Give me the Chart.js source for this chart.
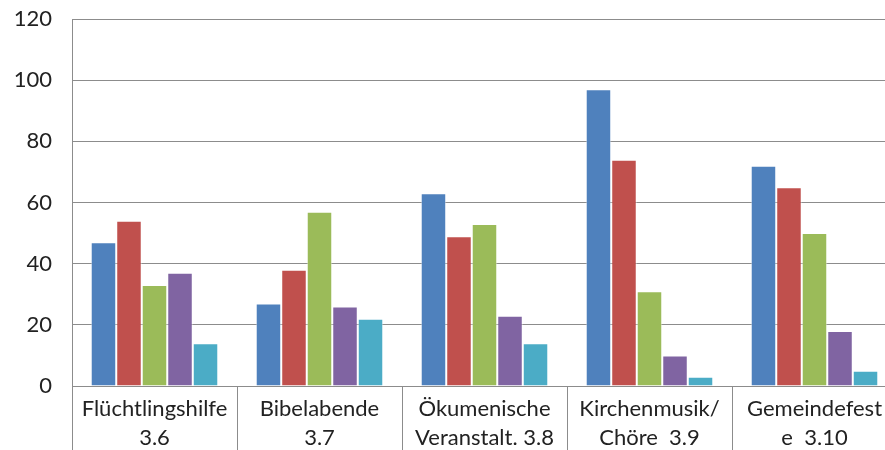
<!DOCTYPE html>
<html>
<head>
<meta charset="utf-8">
<script src="https://cdn.jsdelivr.net/npm/chart.js@4"></script>
<style>
    html, body { margin: 0; padding: 0; background: #fff; overflow: hidden; }
    #wrap { width: 900px; height: 450px; }
</style>
</head>
<body>
<div id="wrap"><canvas id="barChart" width="900" height="450"></canvas></div>
<script>
const categories = [
    ['Flüchtlingshilfe', '3.6'],
    ['Bibelabende', '3.7'],
    ['Ökumenische', 'Veranstalt. 3.8'],
    ['Kirchenmusik/', 'Chöre  3.9'],
    ['Gemeindefest', 'e  3.10']
];
const series1 = [47, 27, 63, 97, 72];
const series2 = [54, 38, 49, 74, 65];
const series3 = [33, 57, 53, 31, 50];
const series4 = [37, 26, 23, 10, 18];
const series5 = [14, 22, 14, 3, 5];
const yTicks = [0, 20, 40, 60, 80, 100, 120];

const colors = ['#4F81BD', '#C0504D', '#9BBB59', '#8064A2', '#4BACC6'];
const gridColor = '#8c8c8c';
const fontFamily = 'Lato, "Open Sans", sans-serif';

function makeSet(values, i) {
    return {
        data: values,
        backgroundColor: colors[i],
        borderColor: 'rgba(255,255,255,0.5)',
        borderWidth: 1,
        categoryPercentage: 0.773,
        barPercentage: 1
    };
}

new Chart(document.getElementById('barChart').getContext('2d'), {
    type: 'bar',
    data: {
        labels: categories,
        datasets: [series1, series2, series3, series4, series5].map(makeSet)
    },
    options: {
        responsive: false,
        animation: false,
        layout: { padding: { top: 19, right: 3, bottom: 0, left: 0 } },
        plugins: {
            legend: { display: false },
            tooltip: { enabled: false }
        },
        scales: {
            x: {
                offset: true,
                grid: {
                    offset: true,
                    drawOnChartArea: false,
                    drawTicks: true,
                    tickLength: 64,
                    color: gridColor
                },
                border: { display: true, color: gridColor },
                ticks: {
                    color: '#222',
                    padding: -56,
                    maxRotation: 0,
                    autoSkip: false,
                    font: { family: fontFamily, size: 22, lineHeight: 1.32 }
                },
                afterFit: function(scale) {
                    scale.height = 64;
                    scale.paddingLeft = 0;
                    scale.paddingRight = 0;
                }
            },
            y: {
                min: 0,
                max: 120,
                afterBuildTicks: function(scale) {
                    scale.ticks = yTicks.map(v => ({ value: v }));
                },
                grid: { color: gridColor, drawTicks: false },
                border: { display: true, color: gridColor },
                ticks: {
                    color: '#222',
                    padding: 20,
                    font: { family: fontFamily, size: 22 }
                },
                afterFit: function(scale) {
                    scale.width = 72;
                    scale.paddingTop = 0;
                    scale.paddingBottom = 0;
                }
            }
        }
    }
});
</script>
</body>
</html>
